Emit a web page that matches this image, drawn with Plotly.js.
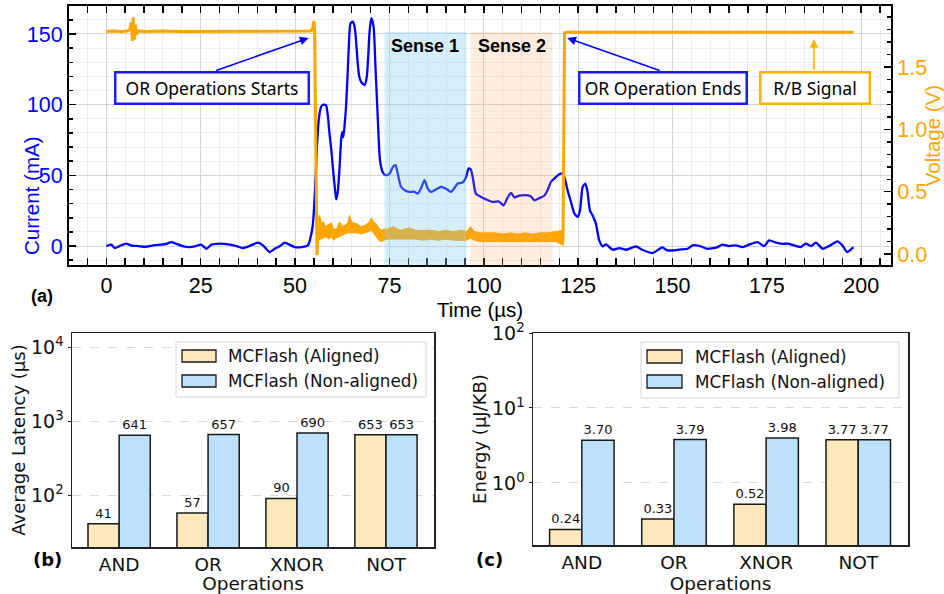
<!DOCTYPE html>
<html>
<head>
<meta charset="utf-8">
<script src="https://cdn.plot.ly/plotly-3.0.1.min.js"></script>
<style>html,body{margin:0;padding:0;background:#fff;}#chart{width:944px;height:594px;}</style>
</head>
<body>
<div id="chart"></div>
<script>
// ---------- (a) current / R/B signal trace ----------
const time = [0,1.3,2.2,3.5,5.3,6.5,8.5,10.5,12.5,14.5,15.9,17.2,18.5,20.2,22.0,23.7,25.1,26.5,27.8,29.2,31.0,32.8,34.5,36.1,37.9,40.2,41.5,43.3,44.6,46.0,47.2,48.5,49.9,51.7,53.4,54.0,54.7,55.3,55.8,56.3,56.9,57.5,58.2,58.7,59.1,59.6,60.0,60.5,60.9,61.3,61.8,62.2,62.5,62.8,63.2,63.5,63.9,64.2,64.7,65.3,65.7,66.0,66.6,67.0,67.5,68.4,69.0,69.4,69.7,70.2,70.8,71.3,71.9,72.5,73.2,74.0,75.0,75.9,76.6,77.2,78.1,79.4,80.5,81.5,82.5,83.4,84.3,85.1,86.0,87.3,88.7,90.0,91.3,92.2,93.1,94.4,95.3,96.0,96.6,97.2,97.9,99.3,100.6,102.4,104.0,105.2,106.4,107.2,108.1,109.4,111.2,112.5,113.4,114.8,116.0,116.9,117.8,118.7,120.0,120.9,121.6,122.2,123.1,124.0,124.9,125.5,126.2,126.9,127.5,128.1,128.8,129.7,130.6,131.5,132.4,134.1,135.9,137.8,140.3,142.0,144.7,146.0,147.3,148.6,150.5,152.3,154.0,155.4,157.3,159.1,160.9,162.0,163.2,165.0,166.8,168.6,170.3,172.5,174.3,175.6,177.4,179.1,180.9,182.7,184.0,185.3,186.7,188.0,189.8,191.5,192.5,193.7,195.0,196.3,197.7,198.0];
const current = [0,1.0,-1.4,0,1.7,0.5,0,-0.5,0.5,1.0,1.6,2.8,1.6,0,-0.7,0,1.0,-1.9,1.0,1.6,1.6,1.0,0,-1.4,0,2.4,0.5,-4.3,-1.9,0,2.4,1.0,-0.7,-0.7,0.5,5,15,40,70,90,98.5,100,99.5,92,80,68,56,42,33,38,56,75,80.8,77,88,98.5,120,138.7,157.6,158.8,156,150.5,129.3,120,116.2,113.9,119.8,135,150.5,161.2,155.2,126.9,91.4,60.7,52.4,50.1,51,56,57.2,51.3,41.8,39,38.3,38.5,37.1,41,46.6,41,38.3,40,41.8,40.5,38.3,41,44.2,45,48.9,54.9,54,46.6,37.1,34.7,33,31.2,31.5,28.8,34.7,37.6,34.5,35.6,36,35,32.4,34,35.6,39.5,45.4,47.8,50.8,51.3,46.6,39.5,31.2,23,20.6,25.3,41.8,44.2,38.3,25.3,21.8,15.9,4,-0.2,1.2,-2.6,-1.5,-2.6,-0.2,-2.6,-5,-3,-1,-3,-3,-2.4,-1.9,0.5,0,-1.9,-1.4,-0.7,1.0,0,0.5,-0.7,1.0,2.8,0,4,2.4,1.6,1.6,0,-0.7,1.7,0,2.4,-1.9,0,1.7,3.3,0.5,-4.3,-1.4,-1.0];

const vTime = [0,2,4,5.5,6.2,6.6,6.9,7.1,7.4,7.7,8.0,8.5,10,15,20,25,30,35,40,45,50,54,54.6,55.0,55.2,55.5,55.8,56.1,56.5,57.0,57.5,58.2,58.8,59.6,60.2,61.0,61.8,62.5,63.2,64.0,64.4,65.0,66.0,67.0,68.0,69.0,70.2,71.0,72.0,72.8,74,77,80,83,86,89,92,95.5,96.5,97.5,100,104,108,112,116,119,121.0,121.2,121.4,122,125,130,140,150,160,170,180,190,198];
const voltage = [1.785,1.79,1.785,1.79,1.80,1.86,1.71,1.90,1.72,1.84,1.76,1.79,1.785,1.79,1.785,1.785,1.79,1.785,1.785,1.79,1.785,1.79,1.80,1.87,1.78,0.6,-0.01,0.2,0.28,0.18,0.2,0.17,0.2,0.21,0.15,0.17,0.21,0.18,0.2,0.21,0.26,0.21,0.2,0.19,0.2,0.21,0.24,0.2,0.16,0.14,0.16,0.16,0.16,0.155,0.155,0.15,0.145,0.145,0.18,0.14,0.135,0.135,0.135,0.13,0.135,0.135,0.12,0.7,1.775,1.78,1.78,1.78,1.785,1.78,1.785,1.785,1.785,1.785,1.78];

const bandTime = [56.0,56.5,57.0,57.5,58.0,58.5,59.0,59.6,60.2,61.0,61.8,62.5,63.2,64.0,64.4,65.0,65.5,66.5,67.5,68.5,69.5,70.2,70.8,71.5,72.2,72.8,73.5,74.5,76.0,78.0,80.0,82.0,84.0,86.0,88.0,90.0,92.0,94.0,95.5,96.5,97.5,99.0,101.0,103.0,105.0,107.0,109.0,111.0,113.0,115.0,117.0,119.0,120.5,121.1];
const bandHi = [0.28,0.31,0.24,0.26,0.22,0.23,0.24,0.25,0.20,0.20,0.26,0.22,0.23,0.25,0.31,0.26,0.25,0.24,0.22,0.23,0.25,0.29,0.26,0.24,0.21,0.19,0.20,0.20,0.22,0.19,0.21,0.19,0.19,0.19,0.18,0.19,0.18,0.19,0.18,0.22,0.18,0.17,0.17,0.17,0.16,0.17,0.16,0.17,0.16,0.17,0.17,0.18,0.19,0.19];
const bandLo = [0.10,0.12,0.12,0.13,0.14,0.13,0.12,0.14,0.11,0.13,0.14,0.15,0.16,0.17,0.17,0.17,0.17,0.17,0.16,0.17,0.18,0.19,0.17,0.14,0.11,0.10,0.11,0.12,0.12,0.12,0.12,0.12,0.11,0.12,0.11,0.12,0.11,0.11,0.11,0.13,0.11,0.10,0.10,0.10,0.10,0.10,0.10,0.10,0.10,0.10,0.10,0.10,0.08,0.07];

const senseNames = ['Sense 1', 'Sense 2'];
const senseStart = [73.7, 96.5];
const senseEnd = [95.4, 118.2];

// ---------- (b), (c) bar charts ----------
const operations = ['AND', 'OR', 'XNOR', 'NOT'];
const seriesNames = ['MCFlash (Aligned)', 'MCFlash (Non-aligned)'];
const latencyAligned = [41, 57, 90, 653];
const latencyNonAligned = [641, 657, 690, 653];
const energyAligned = [0.24, 0.33, 0.52, 3.77];
const energyNonAligned = [3.70, 3.79, 3.98, 3.77];
const latencyTicks = [100, 1000, 10000];
const latencyTickText = ['10<sup>2</sup>', '10<sup>3</sup>', '10<sup>4</sup>'];
const energyTicks = [1, 10, 100];
const energyTickText = ['10<sup>0</sup>', '10<sup>1</sup>', '10<sup>2</sup>'];

// ---------- styling ----------
const W = 944, H = 594;
const PX = x => x / W;
const PY = y => 1 - y / H;
const BLUE = '#0000ff', ORANGE = '#ffa500';
const ALIGNED = '#fde8bb', NONALIGNED = '#bde0fb';
const ARIAL = 'Liberation Sans, Arial, sans-serif';
const DJV = 'DejaVu Sans, sans-serif';
const BOXFONT = 'Noto Sans, sans-serif';

const traces = [];
traces.push({
  x: bandTime.concat(bandTime.slice().reverse()),
  y: bandHi.concat(bandLo.slice().reverse()),
  xaxis: 'x', yaxis: 'y2', type: 'scatter', mode: 'lines',
  fill: 'toself', fillcolor: ORANGE, line: {color: ORANGE, width: 1},
  hoverinfo: 'skip', showlegend: false
});
traces.push({
  x: vTime, y: voltage, xaxis: 'x', yaxis: 'y2', type: 'scatter', mode: 'lines',
  line: {color: ORANGE, width: 3}, name: 'R/B Signal', showlegend: false
});
traces.push({
  x: time, y: current, xaxis: 'x', yaxis: 'y', type: 'scatter', mode: 'lines',
  line: {color: BLUE, width: 2.3, shape: 'spline', smoothing: 0.6}, name: 'Current', showlegend: false
});

function bars(vals, fmt, color, name, xa, ya) {
  return {
    type: 'bar', x: operations, y: vals, xaxis: xa, yaxis: ya, name: name,
    marker: {color: color, line: {color: '#1a1a1a', width: 1.5}},
    text: vals.map(fmt), textposition: 'outside', cliponaxis: false,
    textfont: {family: DJV, size: 13, color: '#111'}, showlegend: false
  };
}
traces.push(bars(latencyAligned, v => String(v), ALIGNED, seriesNames[0], 'x2', 'y3'));
traces.push(bars(latencyNonAligned, v => String(v), NONALIGNED, seriesNames[1], 'x2', 'y3'));
traces.push(bars(energyAligned, v => v.toFixed(2), ALIGNED, seriesNames[0], 'x3', 'y4'));
traces.push(bars(energyNonAligned, v => v.toFixed(2), NONALIGNED, seriesNames[1], 'x3', 'y4'));

const shapes = [];
const annotations = [];
const senseColors = ['rgba(135,206,235,0.34)', 'rgba(244,164,96,0.2)'];
for (let i = 0; i < senseNames.length; i++) {
  shapes.push({type: 'rect', xref: 'x', yref: 'y domain', x0: senseStart[i], x1: senseEnd[i], y0: 0, y1: 0.9,
    fillcolor: senseColors[i], line: {width: 0}, layer: 'above'});
  annotations.push({xref: 'x', yref: 'y', x: (senseStart[i] + senseEnd[i]) / 2, y: 141.5, text: '<b>' + senseNames[i] + '</b>',
    showarrow: false, font: {family: ARIAL, size: 18, color: '#000'}});
}

// boxes and arrows
function box(x, y, text, color, w) {
  annotations.push({xref: 'x', yref: 'y', x: x, y: y, text: text, showarrow: false,
    font: {family: BOXFONT, size: 17.5, color: '#000'}, bgcolor: '#fff', bordercolor: color,
    borderwidth: 2.5, borderpad: 1, width: w, height: 27, xanchor: 'center', yanchor: 'middle'});
}
function arrow(x, y, ax, ay, color) {
  annotations.push({xref: 'x', yref: 'y', x: x, y: y, axref: 'x', ayref: 'y', ax: ax, ay: ay, text: '',
    showarrow: true, arrowhead: 2, arrowsize: 1.1, arrowwidth: 1.6, arrowcolor: color, standoff: 0, startstandoff: 0});
}
arrow(53.6, 147.2, 28.7, 123.8, BLUE);
arrow(122.1, 147.2, 147.0, 123.8, BLUE);
arrow(187.5, 146.5, 187.5, 123.8, '#ffb300');
box(28.0, 112.1, 'OR Operations Starts', '#1a1aff', 189);
box(147.4, 112.1, 'OR Operation Ends', '#1a1aff', 163);
box(187.7, 112.1, 'R/B Signal', '#ffb300', 105);

// left axis title of panel (a), placed to match the reference
annotations.push({xref: 'paper', yref: 'paper', x: PX(18), y: PY(135.5), text: 'Current (mA)', textangle: -90,
  showarrow: false, font: {family: ARIAL, size: 20.5, color: BLUE}});

// panel labels
annotations.push({xref: 'paper', yref: 'paper', x: PX(29), y: PY(296), text: '<b>(a)</b>', showarrow: false, font: {family: ARIAL, size: 18, color: '#000'}});
annotations.push({xref: 'paper', yref: 'paper', x: PX(31), y: PY(572), text: '<b>(b)</b>', showarrow: false, font: {family: DJV, size: 18, color: '#000'}});
annotations.push({xref: 'paper', yref: 'paper', x: PX(489), y: PY(572), text: '<b>(c)</b>', showarrow: false, font: {family: DJV, size: 18, color: '#000'}});

// manual legends
function legend(bx0, bx1, by0, by1, sx0, sx1, rows, tx) {
  shapes.push({type: 'rect', xref: 'paper', yref: 'paper', x0: PX(bx0), x1: PX(bx1), y0: PY(by1), y1: PY(by0),
    fillcolor: 'rgba(255,255,255,0.85)', line: {color: '#d6d6d6', width: 1}});
  const cols = [ALIGNED, NONALIGNED];
  for (let i = 0; i < 2; i++) {
    const [r0, r1] = rows[i];
    shapes.push({type: 'rect', xref: 'paper', yref: 'paper', x0: PX(sx0), x1: PX(sx1), y0: PY(r1), y1: PY(r0),
      fillcolor: cols[i], line: {color: '#1a1a1a', width: 1.3}});
    annotations.push({xref: 'paper', yref: 'paper', x: PX(tx), y: PY((r0 + r1) / 2), text: seriesNames[i],
      xanchor: 'left', yanchor: 'middle', showarrow: false, font: {family: DJV, size: 16.8, color: '#111'}});
  }
}
legend(176, 426, 342, 397, 182, 216, [[350, 362], [375, 387]], 226);
legend(641, 899, 342, 398, 647, 682, [[350, 363], [375, 388]], 693);

const frameCommon = {showline: true, linecolor: '#000', zeroline: false};
const layout = {
  width: W, height: H, margin: {l: 0, r: 0, t: 0, b: 0},
  paper_bgcolor: '#fff', plot_bgcolor: '#fff',
  barmode: 'group', bargap: 0.3, bargroupgap: 0,
  showlegend: false,
  xaxis: Object.assign({}, frameCommon, {
    domain: [PX(69), PX(891)], anchor: 'y', range: [-9.9, 207.9], tick0: 0, dtick: 25,
    linewidth: 2, mirror: 'allticks', ticks: 'inside', ticklen: 7, tickwidth: 1.5, tickcolor: '#000',
    showgrid: true, gridcolor: '#d4d4d4', gridwidth: 1,
    minor: {dtick: 5, ticks: 'inside', ticklen: 4, tickcolor: '#000', showgrid: true, gridcolor: '#eeeeee'},
    tickfont: {family: ARIAL, size: 21.5, color: '#000'},
    title: {text: 'Time (µs)', font: {family: ARIAL, size: 20.5, color: '#000'}, standoff: 0}
  }),
  yaxis: Object.assign({}, frameCommon, {
    domain: [PY(265), PY(6)], anchor: 'x', range: [-13.4, 169.8], tick0: 0, dtick: 50,
    linewidth: 2, ticks: 'inside', ticklen: 7, tickwidth: 1.5, tickcolor: '#000',
    showgrid: true, gridcolor: '#d4d4d4',
    minor: {dtick: 10, ticks: 'inside', ticklen: 4, tickcolor: '#000', showgrid: true, gridcolor: '#eeeeee'},
    tickfont: {family: ARIAL, size: 21.5, color: BLUE}
  }),
  yaxis2: Object.assign({}, frameCommon, {
    overlaying: 'y', side: 'right', anchor: 'x', range: [-0.088, 1.99], tick0: 0, dtick: 0.5, tickformat: '.1f',
    linewidth: 2, ticks: 'inside', ticklen: 7, tickwidth: 1.5, tickcolor: '#000', showgrid: false,
    minor: {dtick: 0.1, ticks: 'inside', ticklen: 4, tickcolor: '#000', showgrid: false},
    tickfont: {family: ARIAL, size: 21.5, color: ORANGE},
    title: {text: 'Voltage (V)', font: {family: ARIAL, size: 20.5, color: ORANGE}, standoff: 0}
  }),
  xaxis2: Object.assign({}, frameCommon, {
    domain: [PX(72), PX(434)], anchor: 'y3', type: 'category', range: [-0.53, 3.54],
    linewidth: 1.5, linecolor: '#222', mirror: true, ticks: '', showgrid: false,
    tickfont: {family: DJV, size: 18.5, color: '#111'},
    title: {text: 'Operations', font: {family: DJV, size: 18.5, color: '#111'}, standoff: 1}
  }),
  yaxis3: Object.assign({}, frameCommon, {
    domain: [PY(547), PY(333)], anchor: 'x2', type: 'log', range: [1.297, 4.19],
    tickvals: latencyTicks, ticktext: latencyTickText,
    linewidth: 1.5, linecolor: '#222', mirror: true, ticks: 'outside', ticklen: 3, tickcolor: '#222',
    showgrid: true, gridcolor: '#d8d8d8', griddash: 'dash',
    tickfont: {family: DJV, size: 19, color: '#111'},
    title: {text: 'Average Latency (µs)', font: {family: DJV, size: 18, color: '#111'}, standoff: 0}
  }),
  xaxis3: Object.assign({}, frameCommon, {
    domain: [PX(533), PX(908)], anchor: 'y4', type: 'category', range: [-0.53, 3.54],
    linewidth: 1.5, linecolor: '#222', mirror: true, ticks: '', showgrid: false,
    tickfont: {family: DJV, size: 18.5, color: '#111'},
    title: {text: 'Operations', font: {family: DJV, size: 18.5, color: '#111'}, standoff: 1}
  }),
  yaxis4: Object.assign({}, frameCommon, {
    domain: [PY(545), PY(333)], anchor: 'x3', type: 'log', range: [-0.828, 2.0],
    tickvals: energyTicks, ticktext: energyTickText,
    linewidth: 1.5, linecolor: '#222', mirror: true, ticks: 'outside', ticklen: 3, tickcolor: '#222',
    showgrid: true, gridcolor: '#d8d8d8', griddash: 'dash',
    tickfont: {family: DJV, size: 19, color: '#111'},
    title: {text: 'Energy (µJ/KB)', font: {family: DJV, size: 18, color: '#111'}, standoff: 0}
  }),
  shapes: shapes,
  annotations: annotations
};

Plotly.newPlot('chart', traces, layout, {displayModeBar: false, staticPlot: true});
</script>
</body>
</html>
